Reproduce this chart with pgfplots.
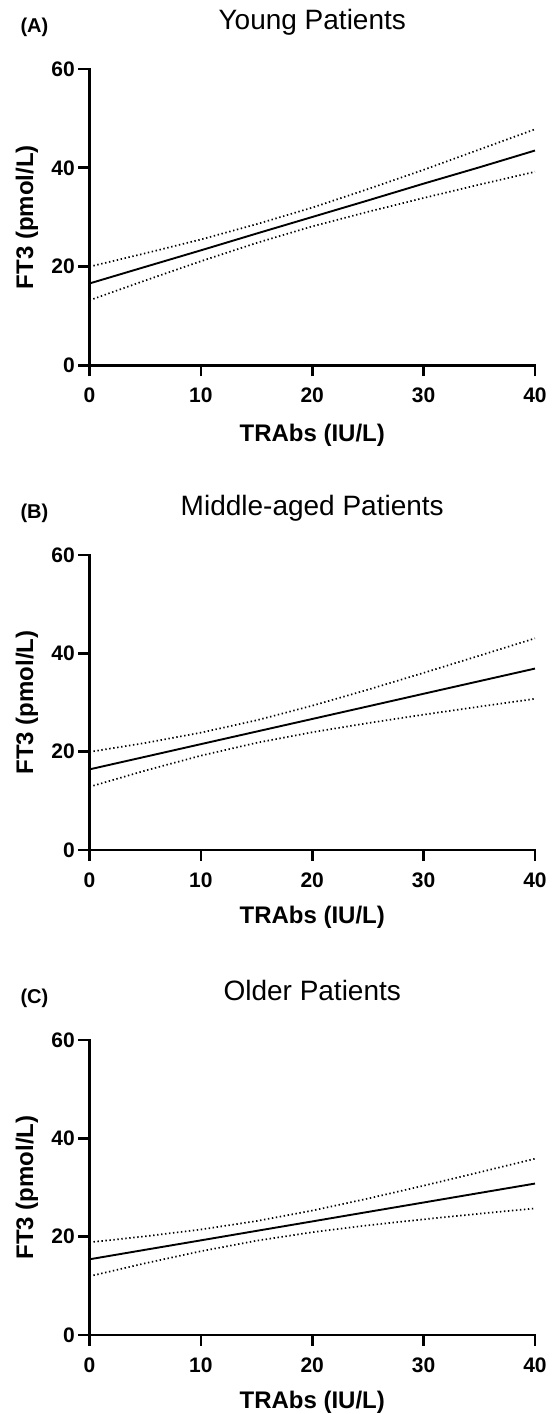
\documentclass[border=0pt]{standalone}
\usepackage{pgfplots}
\pgfplotsset{compat=1.18}
\usepackage{fontspec}
\setmainfont{Liberation Sans}

% fitted line and 95% band
\pgfplotsset{
  panel/.style={
    scale only axis, width=445.5pt, height=296pt,
    xmin=0, xmax=40, ymin=0, ymax=60,
    xtick={0,10,20,30,40}, ytick={0,20,40,60},
    axis x line*=bottom, axis y line*=left,
    axis line style={line width=2.7pt, line cap=rect},
    tick align=outside, major tick length=11pt,
    every tick/.style={black, line width=2.7pt},
    /pgf/number format/assume math mode=true,
    ticklabel style={font=\fontsize{21}{24}\selectfont\bfseries},
    xticklabel style={yshift=-8pt},
    yticklabel style={inner sep=3.5pt},
    label style={font=\fontsize{24}{28}\selectfont\bfseries},
    ylabel={FT3 (pmol/L)}, xlabel={TRAbs (IU/L)},
    ylabel style={at={([xshift=-62.5pt]rel axis cs:0,0.5)}, anchor=center},
    title style={at={(rel axis cs:0.5,1)}, anchor=base, yshift=33.5pt,
                 font=\fontsize{28}{32}\selectfont},
    clip=false,
  },
  fit/.style={black, line width=1.9pt, no marks},
  band/.style={black, line width=1.7pt, dash pattern=on 1.4pt off 2.6pt, no marks},
}
\tikzset{
  tag/.style={anchor=base west, font=\fontsize{20}{23}\selectfont\bfseries,
              xshift=-72.5pt, yshift=36.5pt},
}

\begin{document}
\begin{tikzpicture}[x=1pt,y=1pt]
\useasboundingbox (0,0) rectangle (555,1414);

% (A) young
\begin{axis}[panel, at={(89.5pt,1048.5pt)}, anchor=origin,
    height=296.5pt, title={Young Patients},
    xlabel style={at={(rel axis cs:0.5,0)}, anchor=center, yshift=-69.5pt}]
  \addplot[fit] coordinates {(0,16.6) (5,19.96) (10,23.3) (15,26.7) (20,30.05) (25,33.4) (30,36.8) (35,40.1) (40,43.5)};
  \addplot[band] coordinates {(0,20.0) (5,22.7) (10,25.5) (15,28.6) (20,31.95) (25,35.7) (30,39.6) (35,43.7) (40,47.8)};
  \addplot[band] coordinates {(0,13.2) (5,17.2) (10,21.1) (15,24.8) (20,28.15) (25,31.1) (30,33.9) (35,36.6) (40,39.2)};
  \node[tag] at (rel axis cs:0,1) {(A)};
\end{axis}

% (B) middle-aged
\begin{axis}[panel, at={(89.5pt,564pt)}, anchor=origin,
    height=295pt, title={Middle-aged Patients},
    xlabel style={at={(rel axis cs:0.5,0)}, anchor=center, yshift=-67pt}]
  \addplot[fit] coordinates {(0,16.4) (5,18.96) (10,21.53) (15,24.09) (20,26.65) (25,29.21) (30,31.78) (35,34.34) (40,36.9)};
  \addplot[band] coordinates {(0,19.95) (5,21.77) (10,23.87) (15,26.38) (20,29.35) (25,32.61) (30,36.03) (35,39.52) (40,43.05)};
  \addplot[band] coordinates {(0,12.85) (5,16.15) (10,19.19) (15,21.8) (20,23.95) (25,25.81) (30,27.53) (35,29.16) (40,30.75)};
  \node[tag] at (rel axis cs:0,1) {(B)};
\end{axis}

% (C) older
\begin{axis}[panel, at={(89.5pt,79pt)}, anchor=origin,
    height=295pt, title={Older Patients},
    xlabel style={at={(rel axis cs:0.5,0)}, anchor=center, yshift=-67pt}]
  \addplot[fit] coordinates {(0,15.4) (5,17.33) (10,19.25) (15,21.18) (20,23.1) (25,25.03) (30,26.95) (35,28.88) (40,30.8)};
  \addplot[band] coordinates {(0,18.85) (5,20.07) (10,21.46) (15,23.18) (20,25.3) (25,27.75) (30,30.37) (35,33.09) (40,35.85)};
  \addplot[band] coordinates {(0,11.95) (5,14.59) (10,17.04) (15,19.18) (20,20.9) (25,22.31) (30,23.53) (35,24.67) (40,25.75)};
  \node[tag] at (rel axis cs:0,1) {(C)};
\end{axis}
\end{tikzpicture}
\end{document}
